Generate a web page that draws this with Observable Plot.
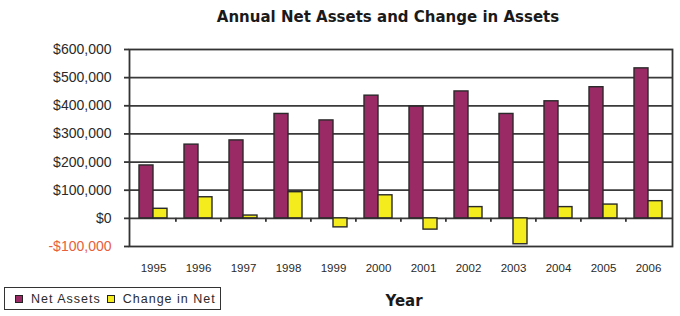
<!DOCTYPE html>
<html><head><meta charset="utf-8">
<script src="https://cdn.jsdelivr.net/npm/d3@7"></script>
<script src="https://cdn.jsdelivr.net/npm/@observablehq/plot@0.6"></script>
<style>
body{margin:0;background:#fff;font-family:"Liberation Sans",Arial,sans-serif}
#c{position:relative;width:680px;height:316px;overflow:hidden}
#legend{position:absolute;left:4px;top:287px;width:215px;height:21px;border:1.6px solid #333;display:flex;align-items:center;font-size:12.5px;letter-spacing:1px;color:#2a2a2a;white-space:nowrap}
#legend .sw{display:inline-block;width:6px;height:6px;border:1.2px solid #222;margin:0 8px 0 10px}
</style></head>
<body><div id="c"></div>
<script>
const years = ["1995","1996","1997","1998","1999","2000","2001","2002","2003","2004","2005","2006"];
const netAssets = [188000, 262000, 277000, 371000, 348000, 436000, 397000, 451000, 371000, 416000, 466000, 533000];
const changeInNet = [34000, 75000, 10000, 93000, -32000, 82000, -40000, 40000, -92000, 40000, 49000, 61000];
const yTicks = [-100000, 0, 100000, 200000, 300000, 400000, 500000, 600000];
const seriesNames = ["Net Assets", "Change in Net"];
const seriesColors = ["#992a66", "#f4ec1c"];
const titleText = "Annual Net Assets and Change in Assets";
const xTitle = "Year";

const W = 680, H = 316, mL = 129, mR = 8, mT = 49, mB = 70;
const step = (W - mL - mR) / years.length;

const netRows = years.map((y, i) => ({year: y, series: seriesNames[0], value: netAssets[i]}));
const chgRows = years.map((y, i) => ({year: y, series: seriesNames[1], value: changeInNet[i]}));
const fmt = d => (d < 0 ? "-$" : "$") + d3.format(",")(Math.abs(d));

const chart = Plot.plot({
  width: W, height: H,
  marginLeft: mL, marginRight: mR, marginTop: mT, marginBottom: mB,
  style: {fontFamily: '"Liberation Sans", Arial, sans-serif', background: "#fff", color: "#222"},
  x: {type: "band", domain: years, paddingInner: 0.38, paddingOuter: 0.19},
  y: {domain: [-100000, 600000]},
  marks: [
    Plot.ruleY(yTicks.filter(d => d > -100000 && d < 600000), {stroke: "#3a3a3a", strokeWidth: 1.8}),
    Plot.barY(netRows, {x: "year", y: "value", fill: seriesColors[0], stroke: "#2a2a2a", strokeWidth: 1.4, insetRight: 14}),
    Plot.barY(chgRows, {x: "year", y: "value", fill: seriesColors[1], stroke: "#2a2a2a", strokeWidth: 1.4, insetLeft: 14}),
    Plot.ruleX(years.slice(1), {x: d => d, y1: 0, y2: -14000, dx: -step / 2, stroke: "#333", strokeWidth: 1.8}),
    Plot.frame({stroke: "#333", strokeWidth: 1.8}),
    Plot.axisY(yTicks.filter(d => d >= 0), {tickFormat: fmt, tickSize: 5, tickPadding: 13, fontSize: 14, stroke: "#333", strokeWidth: 1.8, fill: "#2a2a2a", label: null}),
    Plot.axisY([-100000], {tickFormat: fmt, tickSize: 5, tickPadding: 13, fontSize: 14, stroke: "#333", strokeWidth: 1.8, fill: "#e8603c", label: null}),
    Plot.axisX(years, {tickSize: 0, tickPadding: 17, fontSize: 11.5, fill: "#2a2a2a", label: null}),
    Plot.text([titleText], {frameAnchor: "top", dy: -32, dx: -13, lineAnchor: "middle", fontWeight: "bold", fontSize: 15, fontFamily: '"DejaVu Sans", sans-serif', fill: "#1a1a1a"}),
    Plot.text([xTitle], {frameAnchor: "bottom", dy: 55, dx: 3, lineAnchor: "middle", fontWeight: "bold", fontSize: 15, fontFamily: '"DejaVu Sans", sans-serif', fill: "#1a1a1a"})
  ]
});
const c = document.getElementById("c");
c.appendChild(chart);

const legend = document.createElement("div");
legend.id = "legend";
seriesNames.forEach((n, i) => {
  const sw = document.createElement("span");
  sw.className = "sw";
  sw.style.background = seriesColors[i];
  if (i > 0) sw.style.marginLeft = "6px";
  legend.appendChild(sw);
  const t = document.createElement("span");
  t.textContent = n;
  legend.appendChild(t);
});
c.appendChild(legend);
</script>
</body></html>
